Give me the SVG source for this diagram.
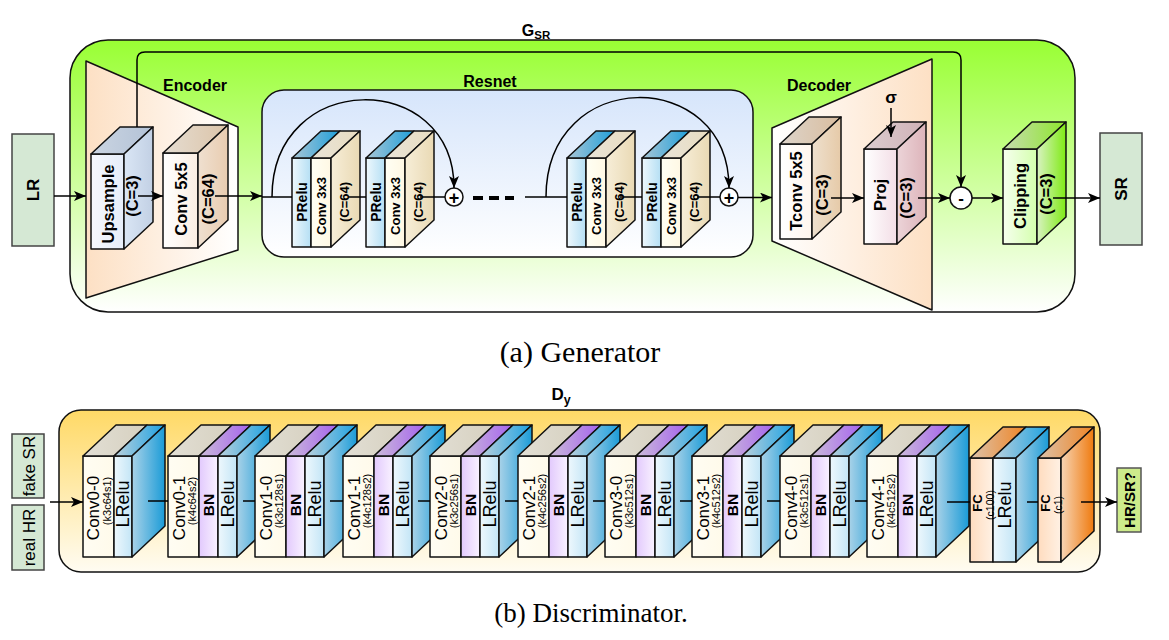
<svg xmlns="http://www.w3.org/2000/svg" width="1169" height="640" viewBox="0 0 1169 640">
<defs>
<style>
text{font-family:"Liberation Sans",Arial,sans-serif;fill:#000}
.b{font-weight:bold}
.r{text-anchor:middle;dominant-baseline:central}
.ln{fill:none;stroke:#000;stroke-width:1.5}
.ar{marker-end:url(#arr)}
.e{stroke:#111;stroke-width:1.5;stroke-linejoin:round}
.cap{font-family:"Liberation Serif","Times New Roman",serif;text-anchor:middle}
.g16{font-size:16.5px;font-weight:bold}
.g13{font-size:13px;font-weight:bold}
.g14{font-size:14px;font-weight:bold}
.d16{font-size:17px}
.lr{font-size:18px}
.d10{font-size:11px}
.bn{font-size:15.5px;font-weight:bold}
.fc{font-size:13px;font-weight:bold}
.fcs{font-size:10.5px}
</style>
<marker id="arr" markerUnits="userSpaceOnUse" markerWidth="13" markerHeight="11" refX="12" refY="5" orient="auto"><path d="M0,0 L12,5 L0,10 L3,5 z" fill="#000"/></marker>
<linearGradient id="gOut" x1="0" y1="0" x2="0" y2="1"><stop offset="0" stop-color="#99ff33"/><stop offset="1" stop-color="#ffffff"/></linearGradient>
<linearGradient id="gEnc"><stop offset="0" stop-color="#fde0c4"/><stop offset="1" stop-color="#ffffff"/></linearGradient>
<linearGradient id="gDec"><stop offset="0" stop-color="#ffffff"/><stop offset="1" stop-color="#fde0c4"/></linearGradient>
<linearGradient id="gRes" x1="0" y1="0" x2="0" y2="1"><stop offset="0" stop-color="#d6e5fb"/><stop offset="1" stop-color="#ffffff"/></linearGradient>
<linearGradient id="gDisc" x1="0" y1="0" x2="0" y2="1"><stop offset="0" stop-color="#ffd966"/><stop offset="1" stop-color="#fffcf2"/></linearGradient>
<linearGradient id="upF"><stop offset="0" stop-color="#f6f8fd"/><stop offset="1" stop-color="#e6edf9"/></linearGradient>
<linearGradient id="upS"><stop offset="0" stop-color="#dae6f5"/><stop offset="1" stop-color="#c2d0e4"/></linearGradient>
<linearGradient id="upT"><stop offset="0" stop-color="#cbd5e2"/><stop offset="1" stop-color="#b3c2d6"/></linearGradient>
<linearGradient id="c5F"><stop offset="0" stop-color="#ffffff"/><stop offset="1" stop-color="#fbeee2"/></linearGradient>
<linearGradient id="c5S"><stop offset="0" stop-color="#efe0d0"/><stop offset="1" stop-color="#e9ccb0"/></linearGradient>
<linearGradient id="c5T"><stop offset="0" stop-color="#e5ddd2"/><stop offset="1" stop-color="#dcc4a8"/></linearGradient>
<linearGradient id="prF"><stop offset="0" stop-color="#eef8fd"/><stop offset="1" stop-color="#b5dff4"/></linearGradient>
<linearGradient id="prT"><stop offset="0" stop-color="#a9c6d6"/><stop offset="1" stop-color="#1e9fda"/></linearGradient>
<linearGradient id="c3F"><stop offset="0" stop-color="#fffff4"/><stop offset="1" stop-color="#fff8e4"/></linearGradient>
<linearGradient id="c3S"><stop offset="0" stop-color="#f7eed8"/><stop offset="1" stop-color="#e9d9b4"/></linearGradient>
<linearGradient id="c3T"><stop offset="0" stop-color="#e8e4d8"/><stop offset="1" stop-color="#e9dcc0"/></linearGradient>
<linearGradient id="tcF"><stop offset="0" stop-color="#ffffff"/><stop offset="1" stop-color="#fff6ee"/></linearGradient>
<linearGradient id="tcS"><stop offset="0" stop-color="#eee0ce"/><stop offset="1" stop-color="#e6caa8"/></linearGradient>
<linearGradient id="tcT"><stop offset="0" stop-color="#ddd4ca"/><stop offset="1" stop-color="#d9bd9f"/></linearGradient>
<linearGradient id="pjF"><stop offset="0" stop-color="#ffffff"/><stop offset="1" stop-color="#f3dee6"/></linearGradient>
<linearGradient id="pjS"><stop offset="0" stop-color="#ecd4d8"/><stop offset="1" stop-color="#ddb4ba"/></linearGradient>
<linearGradient id="pjT"><stop offset="0" stop-color="#dccdd0"/><stop offset="1" stop-color="#cfb1b6"/></linearGradient>
<linearGradient id="clF"><stop offset="0" stop-color="#f6ffee"/><stop offset="1" stop-color="#d4ffad"/></linearGradient>
<linearGradient id="clS"><stop offset="0" stop-color="#d9f2c2"/><stop offset="1" stop-color="#7fea14"/></linearGradient>
<linearGradient id="clT"><stop offset="0" stop-color="#c7dcb0"/><stop offset="1" stop-color="#8de62c"/></linearGradient>
<linearGradient id="dcF"><stop offset="0" stop-color="#fffdf3"/><stop offset="1" stop-color="#fffaea"/></linearGradient>
<linearGradient id="dcT"><stop offset="0" stop-color="#e2dfd5"/><stop offset="1" stop-color="#d6d0bf"/></linearGradient>
<linearGradient id="bnF"><stop offset="0" stop-color="#e2c9fd"/><stop offset="1" stop-color="#f9f2ff"/></linearGradient>
<linearGradient id="bnT"><stop offset="0" stop-color="#cbbcd9"/><stop offset="1" stop-color="#a562ee"/></linearGradient>
<linearGradient id="lrF"><stop offset="0" stop-color="#eef8fd"/><stop offset="1" stop-color="#c3e5f6"/></linearGradient>
<linearGradient id="lrS"><stop offset="0" stop-color="#a9d2e8"/><stop offset="1" stop-color="#1a9bd7"/></linearGradient>
<linearGradient id="lrT"><stop offset="0" stop-color="#bcd1dc"/><stop offset="1" stop-color="#1ba1e2"/></linearGradient>
<linearGradient id="fcF"><stop offset="0" stop-color="#ffdcbf"/><stop offset="1" stop-color="#fff1e4"/></linearGradient>
<linearGradient id="fcT"><stop offset="0" stop-color="#dcc3ab"/><stop offset="1" stop-color="#ef8424"/></linearGradient>
<linearGradient id="fcS"><stop offset="0" stop-color="#f7d5b5"/><stop offset="1" stop-color="#ef7a0e"/></linearGradient>
</defs>
<rect width="1169" height="640" fill="#ffffff"/>

<!-- ============ GENERATOR ============ -->
<g id="generator">
<rect x="70" y="40" width="1005" height="272" rx="38" fill="url(#gOut)" class="e"/>
<text x="536" y="36" text-anchor="middle" class="b" font-size="16">G<tspan font-size="11.5" dy="3">SR</tspan></text>
</g>

<g id="encoder">
<polygon points="86,61 238,127 238,250 86,298" fill="url(#gEnc)" class="e"/>
<text x="195" y="91" text-anchor="middle" class="b" font-size="16">Encoder</text>
</g>

<g id="decoder">
<polygon points="772,128 932,59 932,310 772,241" fill="url(#gDec)" class="e"/>
<text x="819" y="91" text-anchor="middle" class="b" font-size="16">Decoder</text>
</g>

<g id="resnet">
<rect x="262" y="90" width="491" height="167" rx="22" fill="url(#gRes)" class="e"/>
<text x="490" y="87" text-anchor="middle" class="b" font-size="16">Resnet</text>
</g>

<g id="lr">
<rect x="12" y="134" width="42" height="112" fill="#d5e8d4" stroke="#444" stroke-width="1.5"/>
<text class="r b" font-size="17" transform="translate(33,190) rotate(-90)">LR</text>
</g>

<g id="upsample">
<rect x="91" y="154" width="33" height="95" fill="url(#upF)" class="e"/>
<polygon points="91,154 124,154 153,127 120,127" fill="url(#upT)" class="e"/>
<polygon points="124,154 153,127 153,222 124,249" fill="url(#upS)" class="e"/>
<text class="r g16" transform="translate(107.5,204) rotate(-90)">Upsample</text>
<text class="r g16" transform="translate(132,196) rotate(-90)">(C=3)</text>
</g>

<g id="conv5x5">
<rect x="163" y="153" width="35" height="95" fill="url(#c5F)" class="e"/>
<polygon points="163,153 198,153 228,125 193,125" fill="url(#c5T)" class="e"/>
<polygon points="198,153 228,125 228,220 198,248" fill="url(#c5S)" class="e"/>
<text class="r g16" transform="translate(180.5,199) rotate(-90)">Conv 5x5</text>
<text class="r g16" transform="translate(208,199) rotate(-90)">(C=64)</text>
</g>

<g id="res1">
<rect x="292" y="158" width="19" height="89" fill="url(#prF)" class="e"/>
<polygon points="292,158 311,158 340,131 321,131" fill="url(#prT)" class="e"/>
<rect x="311" y="158" width="20" height="89" fill="url(#c3F)" class="e"/>
<polygon points="311,158 331,158 360,131 340,131" fill="url(#c3T)" class="e"/>
<polygon points="331,158 360,131 360,220 331,247" fill="url(#c3S)" class="e"/>
<text class="r g14" transform="translate(301.5,202) rotate(-90)">PRelu</text>
<text class="r g13" transform="translate(321.5,206) rotate(-90)">Conv 3x3</text>
<text class="r g13" transform="translate(344,202) rotate(-90)">(C=64)</text>
</g>

<g id="res2">
<rect x="366" y="158" width="19" height="89" fill="url(#prF)" class="e"/>
<polygon points="366,158 385,158 414,131 395,131" fill="url(#prT)" class="e"/>
<rect x="385" y="158" width="20" height="89" fill="url(#c3F)" class="e"/>
<polygon points="385,158 405,158 434,131 414,131" fill="url(#c3T)" class="e"/>
<polygon points="405,158 434,131 434,220 405,247" fill="url(#c3S)" class="e"/>
<text class="r g14" transform="translate(375.5,202) rotate(-90)">PRelu</text>
<text class="r g13" transform="translate(395.5,206) rotate(-90)">Conv 3x3</text>
<text class="r g13" transform="translate(418,202) rotate(-90)">(C=64)</text>
</g>

<g id="res3">
<rect x="567" y="158" width="19" height="89" fill="url(#prF)" class="e"/>
<polygon points="567,158 586,158 615,131 596,131" fill="url(#prT)" class="e"/>
<rect x="586" y="158" width="20" height="89" fill="url(#c3F)" class="e"/>
<polygon points="586,158 606,158 635,131 615,131" fill="url(#c3T)" class="e"/>
<polygon points="606,158 635,131 635,220 606,247" fill="url(#c3S)" class="e"/>
<text class="r g14" transform="translate(576.5,202) rotate(-90)">PRelu</text>
<text class="r g13" transform="translate(596.5,206) rotate(-90)">Conv 3x3</text>
<text class="r g13" transform="translate(619,202) rotate(-90)">(C=64)</text>
</g>

<g id="res4">
<rect x="642" y="158" width="19" height="89" fill="url(#prF)" class="e"/>
<polygon points="642,158 661,158 690,131 671,131" fill="url(#prT)" class="e"/>
<rect x="661" y="158" width="20" height="89" fill="url(#c3F)" class="e"/>
<polygon points="661,158 681,158 710,131 690,131" fill="url(#c3T)" class="e"/>
<polygon points="681,158 710,131 710,220 681,247" fill="url(#c3S)" class="e"/>
<text class="r g14" transform="translate(651.5,202) rotate(-90)">PRelu</text>
<text class="r g13" transform="translate(671.5,206) rotate(-90)">Conv 3x3</text>
<text class="r g13" transform="translate(694,202) rotate(-90)">(C=64)</text>
</g>

<g id="plus1">
<circle cx="454" cy="197" r="9" fill="#fff" class="e"/>
<text class="r b" font-size="18" x="454" y="197.5">+</text>
</g>
<g id="plus2">
<circle cx="729" cy="197" r="9" fill="#fff" class="e"/>
<text class="r b" font-size="18" x="729" y="197.5">+</text>
</g>
<g id="dots">
<rect x="473" y="196" width="10" height="4" fill="#000"/>
<rect x="489" y="196" width="10" height="4" fill="#000"/>
<rect x="505" y="196" width="9" height="4" fill="#000"/>
</g>

<g id="tconv">
<rect x="780" y="144" width="32" height="95" fill="url(#tcF)" class="e"/>
<polygon points="780,144 812,144 841,117 809,117" fill="url(#tcT)" class="e"/>
<polygon points="812,144 841,117 841,212 812,239" fill="url(#tcS)" class="e"/>
<text class="r g16" transform="translate(796,191) rotate(-90)">Tconv 5x5</text>
<text class="r g16" transform="translate(822,195) rotate(-90)">(C=3)</text>
</g>

<g id="proj">
<rect x="864" y="149" width="33" height="95" fill="url(#pjF)" class="e"/>
<polygon points="864,149 897,149 926,122 893,122" fill="url(#pjT)" class="e"/>
<polygon points="897,149 926,122 926,217 897,244" fill="url(#pjS)" class="e"/>
<text class="r g16" transform="translate(880,195) rotate(-90)">Proj</text>
<text class="r g16" transform="translate(906,198) rotate(-90)">(C=3)</text>
</g>

<g id="sigma">
<text x="891" y="103" text-anchor="middle" class="b" font-size="17">σ</text>
</g>

<g id="minus">
<circle cx="961" cy="198" r="11" fill="#fff" class="e"/>
<text class="r b" font-size="17" x="961" y="198">-</text>
</g>

<g id="clipping">
<rect x="1003" y="149" width="34" height="95" fill="url(#clF)" class="e"/>
<polygon points="1003,149 1037,149 1066,122 1032,122" fill="url(#clT)" class="e"/>
<polygon points="1037,149 1066,122 1066,217 1037,244" fill="url(#clS)" class="e"/>
<text class="r g16" transform="translate(1020,196) rotate(-90)">Clipping</text>
<text class="r g16" transform="translate(1046,194) rotate(-90)">(C=3)</text>
</g>

<g id="sr">
<rect x="1100" y="133" width="42" height="112" fill="#d5e8d4" stroke="#444" stroke-width="1.5"/>
<text class="r b" font-size="17" transform="translate(1121,189) rotate(-90)">SR</text>
</g>

<text class="cap" font-size="30" x="580" y="362">(a) Generator</text>

<!-- ============ DISCRIMINATOR ============ -->
<g id="discriminator">
<rect x="59" y="410" width="1041" height="162" rx="22" fill="url(#gDisc)" class="e"/>
<text x="561" y="400" text-anchor="middle" class="b" font-size="17">D<tspan font-size="12.5" dy="4">y</tspan></text>
</g>

<g id="fakesr">
<rect x="12" y="434" width="32" height="64" fill="#d5e8d4" stroke="#444" stroke-width="1.5"/>
<text class="r" font-size="17" transform="translate(29,466) rotate(-90)">fake SR</text>
</g>
<g id="realhr">
<rect x="12" y="505" width="32" height="65" fill="#d5e8d4" stroke="#444" stroke-width="1.5"/>
<text class="r" font-size="17" transform="translate(29,537.5) rotate(-90)">real HR</text>
</g>

<g id="d0">
<rect x="83" y="456" width="31" height="101" fill="url(#dcF)" class="e"/>
<polygon points="83,456 114,456 147,425 116,425" fill="url(#dcT)" class="e"/>
<rect x="114" y="456" width="18" height="101" fill="url(#lrF)" class="e"/>
<polygon points="114,456 132,456 165,425 147,425" fill="url(#lrT)" class="e"/>
<polygon points="132,456 165,425 165,526 132,557" fill="url(#lrS)" class="e"/>
<text class="r d16" transform="translate(93.5,508) rotate(-90)">Conv0-0</text>
<text class="r d10" transform="translate(106.5,501) rotate(-90)">(k3c64s1)</text>
<text class="r lr" transform="translate(123,504) rotate(-90)">LRelu</text>
</g>

<g id="d1">
<rect x="168" y="456" width="31" height="101" fill="url(#dcF)" class="e"/>
<polygon points="168,456 199,456 232,425 201,425" fill="url(#dcT)" class="e"/>
<rect x="199" y="456" width="19" height="101" fill="url(#bnF)" class="e"/>
<polygon points="199,456 218,456 251,425 232,425" fill="url(#bnT)" class="e"/>
<rect x="218" y="456" width="19" height="101" fill="url(#lrF)" class="e"/>
<polygon points="218,456 237,456 270,425 251,425" fill="url(#lrT)" class="e"/>
<polygon points="237,456 270,425 270,526 237,557" fill="url(#lrS)" class="e"/>
<text class="r d16" transform="translate(179,508) rotate(-90)">Conv0-1</text>
<text class="r d10" transform="translate(191.5,501) rotate(-90)">(k4c64s2)</text>
<text class="r bn" transform="translate(208.5,505) rotate(-90)">BN</text>
<text class="r lr" transform="translate(227.5,504) rotate(-90)">LRelu</text>
</g>

<g id="d2">
<rect x="255" y="456" width="31" height="101" fill="url(#dcF)" class="e"/>
<polygon points="255,456 286,456 319,425 288,425" fill="url(#dcT)" class="e"/>
<rect x="286" y="456" width="19" height="101" fill="url(#bnF)" class="e"/>
<polygon points="286,456 305,456 338,425 319,425" fill="url(#bnT)" class="e"/>
<rect x="305" y="456" width="19" height="101" fill="url(#lrF)" class="e"/>
<polygon points="305,456 324,456 357,425 338,425" fill="url(#lrT)" class="e"/>
<polygon points="324,456 357,425 357,526 324,557" fill="url(#lrS)" class="e"/>
<text class="r d16" transform="translate(266,508) rotate(-90)">Conv1-0</text>
<text class="r d10" transform="translate(278.5,501) rotate(-90)">(k3c128s1)</text>
<text class="r bn" transform="translate(295.5,505) rotate(-90)">BN</text>
<text class="r lr" transform="translate(314.5,504) rotate(-90)">LRelu</text>
</g>

<g id="d3">
<rect x="343" y="456" width="31" height="101" fill="url(#dcF)" class="e"/>
<polygon points="343,456 374,456 407,425 376,425" fill="url(#dcT)" class="e"/>
<rect x="374" y="456" width="19" height="101" fill="url(#bnF)" class="e"/>
<polygon points="374,456 393,456 426,425 407,425" fill="url(#bnT)" class="e"/>
<rect x="393" y="456" width="19" height="101" fill="url(#lrF)" class="e"/>
<polygon points="393,456 412,456 445,425 426,425" fill="url(#lrT)" class="e"/>
<polygon points="412,456 445,425 445,526 412,557" fill="url(#lrS)" class="e"/>
<text class="r d16" transform="translate(354,508) rotate(-90)">Conv1-1</text>
<text class="r d10" transform="translate(366.5,501) rotate(-90)">(k4c128s2)</text>
<text class="r bn" transform="translate(383.5,505) rotate(-90)">BN</text>
<text class="r lr" transform="translate(402.5,504) rotate(-90)">LRelu</text>
</g>

<g id="d4">
<rect x="430" y="456" width="31" height="101" fill="url(#dcF)" class="e"/>
<polygon points="430,456 461,456 494,425 463,425" fill="url(#dcT)" class="e"/>
<rect x="461" y="456" width="19" height="101" fill="url(#bnF)" class="e"/>
<polygon points="461,456 480,456 513,425 494,425" fill="url(#bnT)" class="e"/>
<rect x="480" y="456" width="19" height="101" fill="url(#lrF)" class="e"/>
<polygon points="480,456 499,456 532,425 513,425" fill="url(#lrT)" class="e"/>
<polygon points="499,456 532,425 532,526 499,557" fill="url(#lrS)" class="e"/>
<text class="r d16" transform="translate(441,508) rotate(-90)">Conv2-0</text>
<text class="r d10" transform="translate(453.5,501) rotate(-90)">(k3c256s1)</text>
<text class="r bn" transform="translate(470.5,505) rotate(-90)">BN</text>
<text class="r lr" transform="translate(489.5,504) rotate(-90)">LRelu</text>
</g>

<g id="d5">
<rect x="518" y="456" width="31" height="101" fill="url(#dcF)" class="e"/>
<polygon points="518,456 549,456 582,425 551,425" fill="url(#dcT)" class="e"/>
<rect x="549" y="456" width="19" height="101" fill="url(#bnF)" class="e"/>
<polygon points="549,456 568,456 601,425 582,425" fill="url(#bnT)" class="e"/>
<rect x="568" y="456" width="19" height="101" fill="url(#lrF)" class="e"/>
<polygon points="568,456 587,456 620,425 601,425" fill="url(#lrT)" class="e"/>
<polygon points="587,456 620,425 620,526 587,557" fill="url(#lrS)" class="e"/>
<text class="r d16" transform="translate(529,508) rotate(-90)">Conv2-1</text>
<text class="r d10" transform="translate(541.5,501) rotate(-90)">(k4c256s2)</text>
<text class="r bn" transform="translate(558.5,505) rotate(-90)">BN</text>
<text class="r lr" transform="translate(577.5,504) rotate(-90)">LRelu</text>
</g>

<g id="d6">
<rect x="605" y="456" width="31" height="101" fill="url(#dcF)" class="e"/>
<polygon points="605,456 636,456 669,425 638,425" fill="url(#dcT)" class="e"/>
<rect x="636" y="456" width="19" height="101" fill="url(#bnF)" class="e"/>
<polygon points="636,456 655,456 688,425 669,425" fill="url(#bnT)" class="e"/>
<rect x="655" y="456" width="19" height="101" fill="url(#lrF)" class="e"/>
<polygon points="655,456 674,456 707,425 688,425" fill="url(#lrT)" class="e"/>
<polygon points="674,456 707,425 707,526 674,557" fill="url(#lrS)" class="e"/>
<text class="r d16" transform="translate(616,508) rotate(-90)">Conv3-0</text>
<text class="r d10" transform="translate(628.5,501) rotate(-90)">(k3c512s1)</text>
<text class="r bn" transform="translate(645.5,505) rotate(-90)">BN</text>
<text class="r lr" transform="translate(664.5,504) rotate(-90)">LRelu</text>
</g>

<g id="d7">
<rect x="692" y="456" width="31" height="101" fill="url(#dcF)" class="e"/>
<polygon points="692,456 723,456 756,425 725,425" fill="url(#dcT)" class="e"/>
<rect x="723" y="456" width="19" height="101" fill="url(#bnF)" class="e"/>
<polygon points="723,456 742,456 775,425 756,425" fill="url(#bnT)" class="e"/>
<rect x="742" y="456" width="19" height="101" fill="url(#lrF)" class="e"/>
<polygon points="742,456 761,456 794,425 775,425" fill="url(#lrT)" class="e"/>
<polygon points="761,456 794,425 794,526 761,557" fill="url(#lrS)" class="e"/>
<text class="r d16" transform="translate(703,508) rotate(-90)">Conv3-1</text>
<text class="r d10" transform="translate(715.5,501) rotate(-90)">(k4c512s2)</text>
<text class="r bn" transform="translate(732.5,505) rotate(-90)">BN</text>
<text class="r lr" transform="translate(751.5,504) rotate(-90)">LRelu</text>
</g>

<g id="d8">
<rect x="780" y="456" width="31" height="101" fill="url(#dcF)" class="e"/>
<polygon points="780,456 811,456 844,425 813,425" fill="url(#dcT)" class="e"/>
<rect x="811" y="456" width="19" height="101" fill="url(#bnF)" class="e"/>
<polygon points="811,456 830,456 863,425 844,425" fill="url(#bnT)" class="e"/>
<rect x="830" y="456" width="19" height="101" fill="url(#lrF)" class="e"/>
<polygon points="830,456 849,456 882,425 863,425" fill="url(#lrT)" class="e"/>
<polygon points="849,456 882,425 882,526 849,557" fill="url(#lrS)" class="e"/>
<text class="r d16" transform="translate(791,508) rotate(-90)">Conv4-0</text>
<text class="r d10" transform="translate(803.5,501) rotate(-90)">(k3c512s1)</text>
<text class="r bn" transform="translate(820.5,505) rotate(-90)">BN</text>
<text class="r lr" transform="translate(839.5,504) rotate(-90)">LRelu</text>
</g>

<g id="d9">
<rect x="867" y="456" width="31" height="101" fill="url(#dcF)" class="e"/>
<polygon points="867,456 898,456 931,425 900,425" fill="url(#dcT)" class="e"/>
<rect x="898" y="456" width="19" height="101" fill="url(#bnF)" class="e"/>
<polygon points="898,456 917,456 950,425 931,425" fill="url(#bnT)" class="e"/>
<rect x="917" y="456" width="19" height="101" fill="url(#lrF)" class="e"/>
<polygon points="917,456 936,456 969,425 950,425" fill="url(#lrT)" class="e"/>
<polygon points="936,456 969,425 969,526 936,557" fill="url(#lrS)" class="e"/>
<text class="r d16" transform="translate(878,508) rotate(-90)">Conv4-1</text>
<text class="r d10" transform="translate(890.5,501) rotate(-90)">(k4c512s2)</text>
<text class="r bn" transform="translate(907.5,505) rotate(-90)">BN</text>
<text class="r lr" transform="translate(926.5,504) rotate(-90)">LRelu</text>
</g>

<g id="fc1">
<rect x="970" y="458" width="23" height="104" fill="url(#fcF)" class="e"/>
<polygon points="970,458 993,458 1026,427 1003,427" fill="url(#fcT)" class="e"/>
<rect x="993" y="458" width="23" height="104" fill="url(#lrF)" class="e"/>
<polygon points="993,458 1016,458 1049,427 1026,427" fill="url(#lrT)" class="e"/>
<polygon points="1016,458 1049,427 1049,531 1016,562" fill="url(#lrS)" class="e"/>
<text class="r fc" transform="translate(977.5,503) rotate(-90)">FC</text>
<text class="r fcs" transform="translate(990,505) rotate(-90)">(c100)</text>
<text class="r lr" transform="translate(1005,505) rotate(-90)">LRelu</text>
</g>

<g id="fc2">
<rect x="1038" y="458" width="23" height="104" fill="url(#fcF)" class="e"/>
<polygon points="1038,458 1061,458 1094,427 1071,427" fill="url(#fcT)" class="e"/>
<polygon points="1061,458 1094,427 1094,531 1061,562" fill="url(#fcS)" class="e"/>
<text class="r fc" transform="translate(1045.5,503) rotate(-90)">FC</text>
<text class="r fcs" transform="translate(1057.5,505) rotate(-90)">(c1)</text>
</g>

<g id="hrsr">
<rect x="1117" y="468" width="24" height="64" fill="#cdeb8b" stroke="#555" stroke-width="1.5"/>
<text class="r b" font-size="15" transform="translate(1129.5,500) rotate(-90)">HR/SR?</text>
</g>

<text class="cap" font-size="27" x="591" y="622">(b) Discriminator.</text>

<!-- ============ CONNECTORS ============ -->
<g id="connectors">
<path class="ln ar" d="M54,196 H86"/>
<path class="ln ar" d="M138,196 H163"/>
<path class="ln ar" d="M215,196 H262"/>
<path class="ln" d="M262,197 H292"/>
<path class="ln" d="M348,197 H366"/>
<path class="ln" d="M420,197 H445"/>
<path class="ln" d="M525,197 H567"/>
<path class="ln" d="M620,197 H642"/>
<path class="ln" d="M697,197 H720"/>
<path class="ln ar" d="M738,197.5 H772"/>
<path class="ln ar" d="M272,197 C272,69 454,69 454,188"/>
<path class="ln ar" d="M546,197 C546,66 729,66 729,188"/>
<path class="ln ar" d="M137,127 V60 Q137,52 145,52 H953 Q961,52 961,60 V187"/>
<path class="ln ar" d="M891,108 V137"/>
<path class="ln ar" d="M831,198 H864"/>
<path class="ln ar" d="M918,198 H950"/>
<path class="ln ar" d="M972,198 H1003"/>
<path class="ln ar" d="M1053,198 H1100"/>
<path class="ln ar" d="M50,502 H83"/>
<path class="ln" d="M148,501 H168"/>
<path class="ln" d="M243,501 H255"/>
<path class="ln" d="M330,501 H343"/>
<path class="ln" d="M418,501 H430"/>
<path class="ln" d="M505,501 H518"/>
<path class="ln" d="M593,501 H605"/>
<path class="ln" d="M680,501 H692"/>
<path class="ln" d="M767,501 H780"/>
<path class="ln" d="M855,501 H867"/>
<path class="ln" d="M947,502 H970"/>
<path class="ln" d="M1027,502 H1038"/>
<path class="ln ar" d="M1081,502 H1117"/>
</g>
</svg>
